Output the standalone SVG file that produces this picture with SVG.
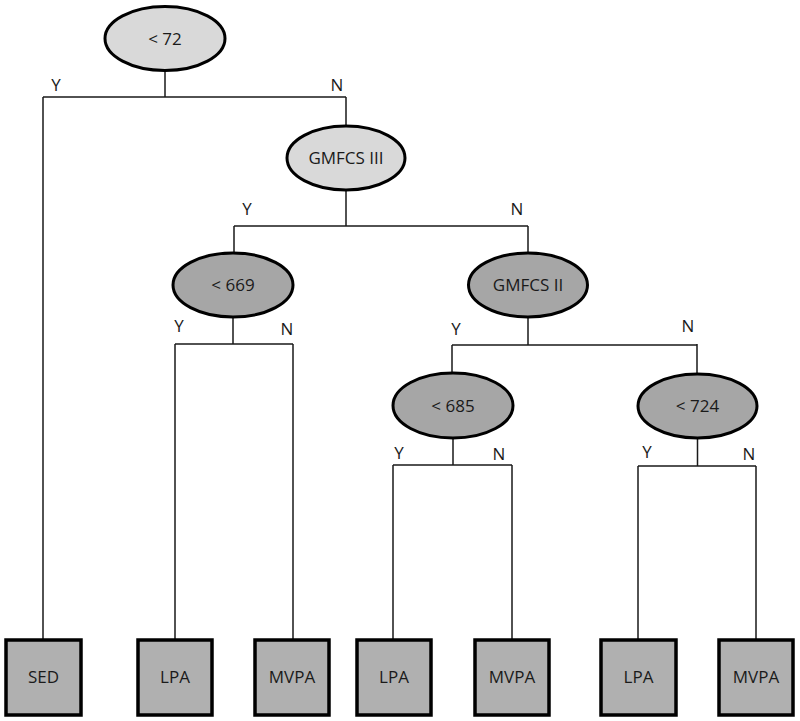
<svg xmlns="http://www.w3.org/2000/svg" width="800" height="721" viewBox="0 0 800 721">
<style>
.lt{fill:#d9d9d9;stroke:#000;stroke-width:3}
.dk{fill:#a6a6a6;stroke:#000;stroke-width:3}
.bx{fill:#b0b0b0;stroke:#000;stroke-width:3.5}
.c{fill:none;stroke:#1a1a1a;stroke-width:1.5}
text{font-family:"Open Sans","Noto Sans",sans-serif;font-size:17px;fill:#1a1a1a;text-anchor:middle}
</style>
<rect width="800" height="721" fill="#fff"/>
<g id="connectors">
<path class="c" d="M165 71V97M43 97H346M43 97V640M346 97V126"/>
<path class="c" d="M346 190V226M234 226H528M234 226V252M528 226V253"/>
<path class="c" d="M233 317V344M175 344H293M175 344V640M293 344V640"/>
<path class="c" d="M528 317V344.5M452 345H697M452 345V373M697 344V374"/>
<path class="c" d="M453 438V465M393 465H512M393 465V640M512 465V640"/>
<path class="c" d="M697.5 438V466M638 466H756M638 466V640M756 466V640"/>
<text x="56" y="91">Y</text>
<text x="337" y="91">N</text>
<text x="247" y="215">Y</text>
<text x="517" y="215">N</text>
<text x="179" y="332">Y</text>
<text x="287" y="335">N</text>
<text x="456" y="335">Y</text>
<text x="688" y="332">N</text>
<text x="399" y="459">Y</text>
<text x="499" y="460">N</text>
<text x="647" y="458">Y</text>
<text x="749" y="460">N</text>
</g>
<g id="n72"><ellipse class="lt" cx="165" cy="38.5" rx="60" ry="32"/><text x="165" y="44.5">&lt; 72</text></g>
<g id="gmfcs3"><ellipse class="lt" cx="346" cy="158" rx="59" ry="32"/><text x="346" y="164">GMFCS III</text></g>
<g id="n669"><ellipse class="dk" cx="233" cy="285" rx="60" ry="32"/><text x="233" y="291">&lt; 669</text></g>
<g id="gmfcs2"><ellipse class="dk" cx="528" cy="285" rx="59.5" ry="32"/><text x="528" y="291">GMFCS II</text></g>
<g id="n685"><ellipse class="dk" cx="453" cy="405.5" rx="60" ry="32.5"/><text x="453" y="411.5">&lt; 685</text></g>
<g id="n724"><ellipse class="dk" cx="697.5" cy="406" rx="59.5" ry="32"/><text x="697.5" y="412">&lt; 724</text></g>
<g id="sed"><rect class="bx" x="6" y="640" width="75" height="75"/><text x="43.5" y="683">SED</text></g>
<g id="lpa1"><rect class="bx" x="138" y="640" width="74" height="75"/><text x="175" y="683">LPA</text></g>
<g id="mvpa1"><rect class="bx" x="255" y="640" width="74" height="75"/><text x="292" y="683">MVPA</text></g>
<g id="lpa2"><rect class="bx" x="357" y="640" width="74" height="75"/><text x="394" y="683">LPA</text></g>
<g id="mvpa2"><rect class="bx" x="475" y="640" width="74" height="75"/><text x="512" y="683">MVPA</text></g>
<g id="lpa3"><rect class="bx" x="601" y="640" width="75" height="75"/><text x="638.5" y="683">LPA</text></g>
<g id="mvpa3"><rect class="bx" x="719" y="640" width="74" height="75"/><text x="756" y="683">MVPA</text></g>
</svg>
